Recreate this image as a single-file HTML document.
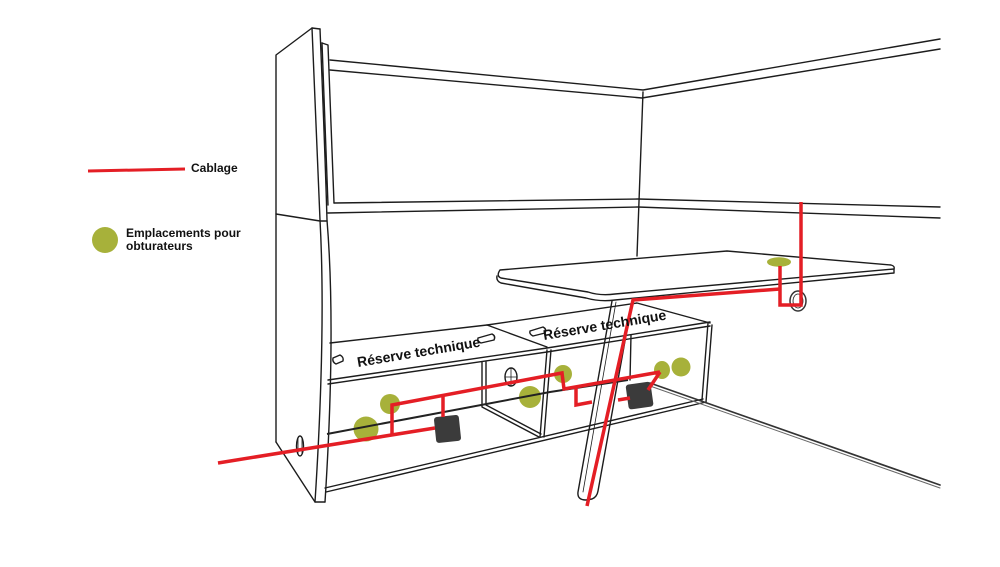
<!DOCTYPE html>
<html><head><meta charset="utf-8"><style>
html,body{margin:0;padding:0;background:#fff;}
svg{display:block;}
text{font-family:"Liberation Sans",Arial,sans-serif;font-weight:bold;fill:#111;}
</style></head><body>
<svg width="1000" height="567" viewBox="0 0 1000 567" xmlns="http://www.w3.org/2000/svg">
<rect width="1000" height="567" fill="#fff"/>
<g fill="none" stroke="#1c1c1c" stroke-width="1.4" stroke-linejoin="round" stroke-linecap="round">
  <!-- left tall panel -->
  <path d="M276,442 L276,55 L312,28 L320,29"/>
  <path d="M312,28 Q317,150 320,220 Q326,330 315,502"/>
  <path d="M320,29 Q325,150 327,220 Q336,330 325,502"/>
  <path d="M276,442 L315,502 L325,502"/>
  <path d="M276,214 L320,221 L327,221"/>
  <!-- inset strip -->
  <path d="M322,43 L328,45 L334,203"/>
  <path d="M322,43 L328,205"/>
  <!-- top rail -->
  <path d="M330,60 L643,90 L940,39"/>
  <path d="M330,70 L642,98 L940,49"/>
  <!-- middle rail -->
  <path d="M334,203 L638,199 L940,207"/>
  <path d="M328,213 L638,207 L940,218"/>
  <!-- corner vertical -->
  <path d="M643,92 L637,256"/>
  <!-- cabinets top -->
  <path d="M330,343 L487,325 L547,347"/>
  <path d="M487,325 L637,303 L710,323"/>
  <path d="M328,380 L547,348 L710,322"/>
  <path d="M328,384 L547,352 L710,326"/>
  <!-- divider -->
  <path d="M547,350 L540,437"/>
  <path d="M551,350 L544,437"/>
  <path d="M482,362 L482,407 L539,437"/>
  <path d="M486,362 L486,405 L541,434"/>
  <!-- bottom front -->
  <path d="M325,488 L703,399"/>
  <path d="M326,492 L706,402"/>
  <!-- right box right edge -->
  <path d="M708,323 L702,400"/>
  <path d="M712,325 L706,402"/>
  <path d="M631,335 L630,380"/>
  <!-- floor line -->
  <path d="M650,383 L940,485" stroke-width="1.7" stroke="#333"/>
  <path d="M650,386 L940,488" stroke-width="1" stroke="#666"/>
  <!-- slots -->
  <path d="M333,358 L340,355 Q344,357 343,361 L336,364 Q332,362 333,358 Z"/>
  <path d="M478,338 L492,334 Q496,336 494,340 L481,343 Q477,341 478,338 Z"/>
  <path d="M530,331 L543,327 Q547,329 545,333 L533,336 Q529,334 530,331 Z"/>
  <!-- grommets -->
  <ellipse cx="300" cy="446" rx="3.5" ry="10"/>
  <path d="M298,438 L298,454 M302,438 L302,454" stroke-width="0.8"/>
  <ellipse cx="511" cy="377" rx="6" ry="9"/>
  <path d="M505,377 L517,377 M511,368 L511,386" stroke-width="0.8"/>
  <!-- table leg -->
  <path d="M612,301 L578,492 Q577,500 586,500 L592,499 Q597,497 598,491 L632,302"/>
  <path d="M616,302 L583,492" stroke-width="0.8"/>
  <!-- table -->
  <path d="M500,270 L727,251 L891,265 Q895,266 894,269 L615,294 Q600,296 588,292 L501,278 Q496,276 500,270 Z"/>
  <path d="M894,269 L894,273 L615,300 Q600,302 586,298 L501,283 Q496,281 497,276"/>
  <!-- table grommet -->
  <ellipse cx="798" cy="301" rx="8" ry="10" stroke="#333" stroke-width="1.5"/>
  <ellipse cx="798" cy="301" rx="5" ry="7" stroke-width="0.8"/>
</g>

<!-- green spots -->
<g fill="#a7b13a">
  <circle cx="366" cy="429" r="12.5"/>
  <circle cx="390" cy="404" r="10"/>
  <circle cx="530" cy="397" r="11"/>
  <circle cx="563" cy="374" r="9"/>
  <ellipse cx="662" cy="370" rx="8" ry="9"/>
  <circle cx="681" cy="367" r="9.5"/>
  <ellipse cx="779" cy="262" rx="12" ry="4.8"/>
  <circle cx="105" cy="240" r="13"/>
</g>

<!-- black cable -->
<path d="M327,434 L550,392 L628,380" fill="none" stroke="#222" stroke-width="2"/>

<!-- black boxes -->
<rect x="435" y="416" width="25" height="26" rx="3" fill="#3b3b3b" transform="rotate(-6 447 429)"/>
<rect x="627" y="383" width="25" height="25" rx="3" fill="#3b3b3b" transform="rotate(-8 640 395)"/>

<!-- red cabling -->
<g fill="none" stroke="#e41e25" stroke-width="3.5" stroke-linejoin="miter" stroke-linecap="butt">
  <path d="M218,463 L435,428"/>
  <path d="M392,435 L392,405 L562,373 L564,389 L660,372"/>
  <path d="M443,395 L443,417"/>
  <path d="M576,387 L576,405 L592,402"/>
  <path d="M618,400 L630,398"/>
  <path d="M648,390 L660,372"/>
  <path d="M801,202 L801,305 L780,305 L780,266"/>
  <path d="M780,289 L633,300 L587,506"/>
  <path d="M88,171 L185,169" stroke-width="3"/>
</g>

<!-- labels -->
<text x="191" y="172" font-size="12">Cablage</text>
<text x="126" y="237" font-size="12">Emplacements pour</text>
<text x="126" y="250" font-size="12">obturateurs</text>
<text transform="translate(358,367) rotate(-9.5)" font-size="14">Réserve technique</text>
<text transform="translate(544,340) rotate(-9.5)" font-size="14">Réserve technique</text>
</svg>
</body></html>
